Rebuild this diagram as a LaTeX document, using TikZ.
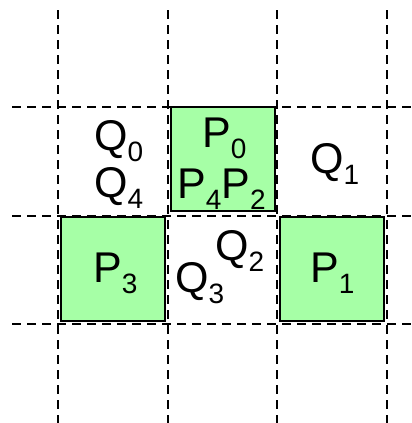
\documentclass[tikz,border=0pt]{standalone}
\usepackage{fontspec}
\setmainfont{Liberation Sans}
\definecolor{cellgreen}{RGB}{166,255,166}
\newcommand{\cellsub}[2]{#1\raisebox{-11pt}{\fontsize{28}{28}\selectfont #2}}

\begin{document}
\begin{tikzpicture}[x=1pt,y=-1pt]
        \tikzstyle{grid} = [black, line width=2.4pt, dash pattern=on 9pt off 6pt]
        \tikzstyle{sq} = [draw, fill=cellgreen, line width=2pt, minimum width=104pt, minimum height=104pt, inner sep=0pt]
        \tikzstyle{lbl} = [inner sep=0pt, anchor=base west, font=\fontsize{43}{48}\selectfont]

        \useasboundingbox (0,0) rectangle (412,423);

        % green cells
        \node (cellp0) [sq] at (222.5,159) {};
        \node (cellp3) [sq] at (113,269) {};
        \node (cellp1) [sq] at (331.5,269) {};

        % dashed grid
        \foreach \x in {58,168,277,387}
            \draw [grid] (\x,10) -- (\x,423);
        \foreach \y in {107,216,324}
            \draw [grid] (12,\y) -- (412,\y);

        % labels
        \node (lq0) [lbl] at (94,150) {\cellsub{Q}{0}};
        \node (lq4) [lbl] at (94,197) {\cellsub{Q}{4}};
        \node (lp0) [lbl] at (202,147) {\cellsub{P}{0}};
        \node (lp4p2) [lbl] at (177,198) {\cellsub{P}{4}\cellsub{P}{2}};
        \node (lq1) [lbl] at (310,173) {\cellsub{Q}{1}};
        \node (lq2) [lbl] at (215,260) {\cellsub{Q}{2}};
        \node (lq3) [lbl] at (175,292) {\cellsub{Q}{3}};
        \node (lp3) [lbl] at (93,282) {\cellsub{P}{3}};
        \node (lp1) [lbl] at (310,282) {\cellsub{P}{1}};

    \end{tikzpicture}
\end{document}
